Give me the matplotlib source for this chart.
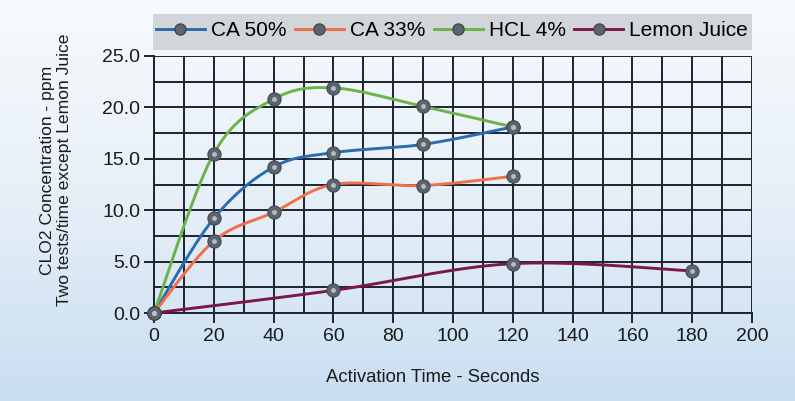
import numpy as np
import matplotlib
matplotlib.use("Agg")
import matplotlib.pyplot as plt
from matplotlib.patches import Rectangle
from matplotlib.lines import Line2D
from matplotlib.colors import LinearSegmentedColormap

plt.rcParams['font.family'] = ['Liberation Sans', 'DejaVu Sans']

# ---- data ----
series_names = ["CA 50%", "CA 33%", "HCL 4%", "Lemon Juice"]
ca50_x = [0, 20, 40, 60, 90, 120]
ca50_y = [0.0, 9.2, 14.2, 15.6, 16.4, 18.1]
ca33_x = [0, 20, 40, 60, 90, 120]
ca33_y = [0.0, 7.0, 9.8, 12.5, 12.4, 13.3]
hcl_x = [0, 20, 40, 60, 90, 120]
hcl_y = [0.0, 15.5, 20.8, 21.9, 20.1, 18.1]
lemon_x = [0, 60, 120, 180]
lemon_y = [0.0, 2.2, 4.8, 4.1]
x_ticks = [0, 20, 40, 60, 80, 100, 120, 140, 160, 180, 200]
y_ticks = [0.0, 5.0, 10.0, 15.0, 20.0, 25.0]

colors = ["#2b6cb0", "#f07048", "#6cb24a", "#7b1848"]


def smooth(xs, ys, n=40):
    """Catmull-Rom style Bezier smoothing (like spreadsheet smoothed lines)."""
    P = np.column_stack([np.asarray(xs, float), np.asarray(ys, float)])
    out = []
    for i in range(len(P) - 1):
        p0 = P[i - 1] if i > 0 else P[i]
        p1 = P[i]
        p2 = P[i + 1]
        p3 = P[i + 2] if i + 2 < len(P) else P[i + 1]
        c1 = p1 + (p2 - p0) / 6.0
        c2 = p2 - (p3 - p1) / 6.0
        t = np.linspace(0, 1, n)[:, None]
        seg = ((1 - t) ** 3) * p1 + 3 * ((1 - t) ** 2) * t * c1 + 3 * (1 - t) * t ** 2 * c2 + t ** 3 * p2
        out.append(seg if i == 0 else seg[1:])
    seg = np.vstack(out)
    return seg[:, 0], seg[:, 1]


fig = plt.figure(figsize=(7.95, 4.01), dpi=100)

# background gradient
bg = fig.add_axes([0, 0, 1, 1], zorder=-10)
grad = np.linspace(0, 1, 256)[:, None]
cmap = LinearSegmentedColormap.from_list("bg", ["#f8fafd", "#e6eff8", "#c9def1"])
bg.imshow(grad, aspect="auto", cmap=cmap, extent=[0, 1, 0, 1], origin="upper")
bg.set_axis_off()

ax = fig.add_axes([154 / 795, 1 - 313 / 401, 598 / 795, 257 / 401])
ax.set_facecolor("none")

ax.set_xlim(0, 200)
ax.set_ylim(0, 25)
ax.set_xticks(x_ticks)
ax.set_yticks(y_ticks)
ax.set_yticklabels([f"{v:.1f}" for v in y_ticks])
ax.set_xticks(np.arange(10, 200, 10), minor=True)
ax.set_yticks(np.arange(2.5, 25, 5), minor=True)
ax.grid(True, which="both", color="#1c2430", linewidth=1.4)
for s in ["top", "right"]:
    ax.spines[s].set_visible(False)
for s in ["left", "bottom"]:
    ax.spines[s].set_color("#1c2430")
    ax.spines[s].set_linewidth(1.4)
ax.tick_params(which="major", length=7, width=1.4, color="#1c2430",
               labelsize=14, labelcolor="#1a1a1a")
ax.tick_params(axis="x", pad=4)
ax.tick_params(axis="y", pad=3)
ax.tick_params(which="minor", length=0)
ax.set_axisbelow(True)

all_x = [ca50_x, ca33_x, hcl_x, lemon_x]
all_y = [ca50_y, ca33_y, hcl_y, lemon_y]
handles = []
for name, xs, ys, c in zip(series_names, all_x, all_y, colors):
    sx, sy = smooth(xs, ys)
    ax.plot(sx, sy, color=c, linewidth=2.1, zorder=3, clip_on=False)
    ax.plot(xs, ys, linestyle="none", marker="o", markersize=9.5,
            markerfacecolor="#5c656d", markeredgecolor="#42494f",
            markeredgewidth=0.8, zorder=4, clip_on=False)
    ax.plot(xs, ys, linestyle="none", marker="o", markersize=3.5,
            markerfacecolor="#b4bcc4", markeredgecolor="none", zorder=5, clip_on=False)
    handles.append(Line2D([0], [0], color=c, linewidth=2.1, marker="o",
                          markersize=8, markerfacecolor="#5c656d",
                          markeredgecolor="#42494f"))

fig.text(433 / 795, 1 - 377 / 401, "Activation Time - Seconds", fontsize=13.3,
         color="#1a1a1a", ha="center", va="center")
fig.text(56 / 795, 1 - 170 / 401,
         "CLO2 Concentration - ppm\nTwo tests/time except Lemon Juice",
         fontsize=12.6, color="#1a1a1a", ha="center", va="center",
         rotation=90, multialignment="center", linespacing=1.15)

# legend background box
fig.patches.append(Rectangle((153 / 795, 1 - 50 / 401), 599 / 795, 36 / 401,
                             transform=fig.transFigure, facecolor="#d2d6da",
                             edgecolor="none", zorder=0))
fig.legend(handles, series_names, loc="center",
           bbox_to_anchor=(452 / 795, 1 - 31 / 401), ncol=4, frameon=False,
           fontsize=15, handlelength=2.35, handletextpad=0.3, columnspacing=0.4,
           borderaxespad=0, borderpad=0)

fig.savefig("out.png", dpi=100)
